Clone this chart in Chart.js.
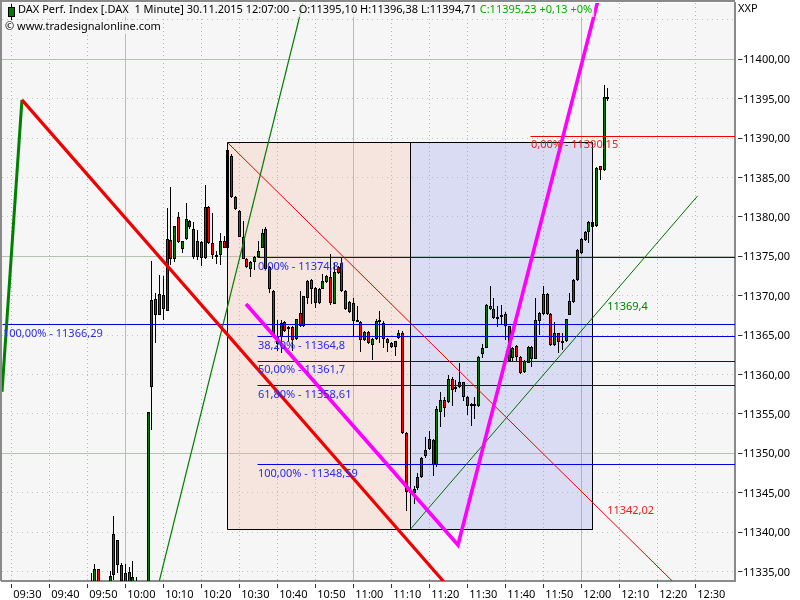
<!DOCTYPE html>
<html>
<head>
<meta charset="utf-8">
<title>DAX Perf. Index</title>
<style>
  html, body { margin: 0; padding: 0; background: #fff; }
  canvas { display: block; }
</style>
<script src="https://cdn.jsdelivr.net/npm/chart.js@4/dist/chart.umd.min.js"></script>
</head>
<body>
<canvas id="daxChart" width="800" height="600"></canvas>
<script>
  // candles, one per minute, first one is 09:51 (minutes since midnight)
  const firstMinute = 591;
  const opens = [
    11333.0,11333.0,11335.3,11333.0,11332.8,11333.0,11334.5,11339.0,11335.8,11333.2,
    11334.9,11333.2,11333.2,11332.5,11332.5,11332.9,11358.4,11369.6,11367.6,11370.1,
    11368.1,11377.1,11374.7,11380.0,11375.9,11377.2,11379.5,11378.5,11374.9,11376.8,
    11374.8,11381.3,11376.7,11375.2,11375.1,11376.9,11376.1,11387.7,11382.5,11380.8,
    11377.5,11374.7,11373.4,11374.3,11374.9,11376.1,11378.4,11373.7,11370.6,11364.8,
    11364.8,11366.7,11365.8,11366.0,11364.5,11367.8,11366.1,11369.7,11372.0,11371.0,
    11370.9,11370.9,11371.7,11372.4,11369.0,11373.7,11374.2,11370.6,11367.9,11369.1,
    11366.9,11366.7,11364.4,11365.4,11363.7,11364.5,11366.8,11366.5,11364.5,11364.0,
    11363.5,11364.6,11365.3,11352.6,11345.0,11345.0,11345.6,11347.0,11349.7,11350.5,
    11351.7,11348.5,11355.2,11356.8,11356.5,11359.4,11358.1,11358.4,11359.0,11357.2,
    11356.2,11356.1,11356.0,11362.6,11363.4,11368.7,11368.3,11367.0,11367.5,11367.7,
    11366.1,11362.1,11363.6,11362.2,11360.3,11361.5,11363.5,11362.0,11366.8,11367.7,
    11370.2,11367.7,11363.7,11365.2,11364.2,11364.2,11367.6,11369.2,11372.0,11375.4,
    11377.1,11378.1,11378.7,11378.8,11386.4,11385.9,11395.10
  ];
  const highs = [
    11334.8,11336.0,11335.3,11333.0,11333.0,11335.1,11342.1,11339.0,11336.1,11336.0,
    11335.6,11336.3,11334.3,11332.7,11332.7,11355.2,11374.4,11370.3,11372.6,11372.5,
    11381.1,11383.8,11378.9,11380.6,11377.0,11381.8,11379.6,11379.4,11378.3,11376.9,
    11384.0,11381.4,11380.5,11375.7,11378.0,11377.6,11389.0,11388.0,11382.6,11380.9,
    11379.5,11374.8,11374.4,11375.0,11376.9,11378.5,11378.7,11373.8,11370.7,11366.9,
    11366.9,11366.8,11366.1,11366.1,11367.1,11370.6,11370.0,11372.0,11372.1,11371.1,
    11371.0,11372.8,11372.6,11375.3,11374.2,11373.8,11374.8,11370.7,11369.3,11369.7,
    11368.7,11366.8,11365.5,11365.5,11364.6,11367.0,11368.0,11366.8,11364.6,11364.1,
    11364.3,11365.6,11365.5,11352.7,11345.4,11345.8,11347.5,11349.5,11352.1,11352.8,
    11351.8,11356.0,11357.8,11357.2,11359.9,11359.7,11359.3,11361.4,11359.1,11357.3,
    11356.4,11357.2,11362.3,11363.9,11368.9,11371.2,11369.7,11368.7,11368.8,11367.9,
    11366.2,11363.5,11363.7,11362.3,11361.8,11363.6,11363.6,11369.7,11367.9,11371.2,
    11370.3,11367.8,11366.7,11365.3,11365.3,11367.1,11370.3,11372.1,11375.9,11377.3,
    11378.2,11379.5,11379.5,11386.3,11386.5,11396.7,11396.38
  ];
  const lows = [
    11332.5,11332.8,11332.8,11332.5,11332.5,11332.8,11333.9,11334.8,11333.5,11333.0,
    11333.0,11333.0,11333.0,11332.4,11332.4,11332.5,11352.9,11364.0,11367.5,11366.9,
    11368.0,11373.9,11374.3,11376.7,11375.4,11377.1,11378.5,11374.7,11374.5,11373.8,
    11374.7,11376.5,11374.6,11374.0,11373.9,11376.0,11376.0,11382.4,11380.9,11377.4,
    11374.6,11373.5,11372.4,11373.3,11374.8,11376.0,11373.3,11370.3,11364.6,11363.0,
    11362.7,11365.4,11364.1,11363.0,11364.4,11366.0,11366.0,11369.0,11368.9,11368.4,
    11369.0,11370.8,11371.6,11368.8,11368.9,11372.8,11370.5,11368.2,11367.8,11364.9,
    11366.6,11362.9,11364.3,11363.9,11361.8,11364.4,11364.0,11363.4,11362.9,11363.4,
    11362.4,11364.5,11352.5,11342.7,11344.9,11343.5,11345.4,11346.9,11349.4,11350.4,
    11347.1,11348.3,11353.3,11354.6,11356.4,11356.0,11357.8,11358.3,11356.6,11354.8,
    11353.5,11354.4,11355.9,11362.1,11363.3,11368.2,11367.1,11366.0,11366.3,11364.4,
    11361.6,11361.7,11361.7,11360.1,11360.2,11361.4,11361.0,11361.9,11365.0,11367.6,
    11367.6,11363.6,11363.6,11362.7,11363.1,11364.1,11367.5,11369.1,11371.9,11375.3,
    11377.0,11376.7,11378.6,11378.7,11384.7,11385.8,11394.71
  ];
  const closes = [
    11333.1,11335.3,11333.0,11332.8,11332.9,11334.4,11339.8,11335.8,11333.8,11334.8,
    11333.2,11334.3,11333.3,11332.6,11332.6,11355.2,11369.5,11367.6,11370.2,11368.3,
    11377.2,11374.7,11378.8,11376.8,11376.9,11379.7,11378.7,11374.9,11376.9,11374.8,
    11381.3,11376.7,11375.1,11375.1,11376.9,11376.1,11388.5,11382.5,11381.0,11377.5,
    11374.7,11373.7,11374.3,11374.9,11375.7,11378.0,11373.4,11370.9,11364.8,11363.9,
    11366.5,11365.5,11366.0,11364.4,11367.0,11366.1,11369.9,11371.9,11370.9,11369.1,
    11369.1,11371.9,11372.5,11369.1,11373.0,11372.9,11370.6,11368.3,11369.2,11366.8,
    11366.8,11364.4,11365.4,11364.0,11364.5,11366.8,11366.9,11364.5,11364.0,11363.5,
    11364.2,11365.3,11352.6,11345.1,11345.3,11345.5,11347.0,11349.4,11350.4,11351.8,
    11348.5,11355.6,11356.8,11355.8,11359.4,11358.0,11358.4,11359.0,11357.2,11356.0,
    11356.3,11356.2,11362.2,11363.4,11368.8,11368.3,11367.2,11367.3,11367.6,11366.1,
    11361.7,11363.4,11362.2,11360.2,11361.7,11363.5,11362.0,11366.9,11367.8,11370.2,
    11367.7,11363.7,11365.3,11364.1,11364.3,11367.0,11369.3,11372.0,11375.8,11377.2,
    11378.1,11379.4,11379.4,11386.2,11385.9,11395.2,11395.23
  ];

  // axis range
  const xMin = 567.55, xMax = 760.45;
  const yMin = 11333.79, yMax = 11407.14;
  const lastYLabel = 11400;
  const lastXTick = 750; // 12:30

  // boxes: three vertical edges, common top and bottom
  const boxTimes = [627, 675, 723];
  const boxTop = 11389.45, boxBottom = 11340.35;

  // horizontal levels
  const levelValues = [11374.81, 11366.29, 11364.8, 11361.7, 11358.61, 11348.59];
  const levelStarts = [634.9, xMin, 634.9, 634.9, 634.9, 634.9];
  const redLevel = 11390.15, redLevelStart = 706.76;

  // trend lines, [time, value] pairs
  const greenThick = [[567.55, 11357.8], [572.8, 11394.84]];
  const redThick = [[572.8, 11394.84], [683.87, 11333.67]];
  const magentaThick = [[631.76, 11368.95], [687.55, 11338.37], [724.4, 11407.5]];
  const greenLong = [[608.95, 11333.8], [646.76, 11407.14]];
  const redThin = [[627, 11389.38], [743.9, 11333.8]];
  const greenThin = [[675, 11340.35], [750.6, 11382.65]];

  // text on the chart: text, time, value, colour
  const labelTexts = ['0,00% - 11374,81', '100,00% - 11366,29', '38,20% - 11364,8', '50,00% - 11361,7',
    '61,80% - 11358,61', '100,00% - 11348,59', '0,00% - 11390,15', '11369,4', '11342,02'];
  const labelTimes = [634.9, 567.8, 634.9, 634.9, 634.9, 634.9, 706.76, 726.8, 726.8];
  const labelValues = [11373.64, 11365.14, 11363.63, 11360.6, 11357.4, 11347.4, 11389.12, 11368.6, 11342.7];
  const labelColors = ['#2a2af0', '#2a2af0', '#2a2af0', '#2a2af0', '#2a2af0', '#2a2af0', '#f02020', '#008000', '#f02020'];

  const titleBlack = 'DAX Perf. Index [.DAX  1 Minute] 30.11.2015 12:07:00 - O:11395,10 H:11396,38 L:11394,71';
  const titleGreen = 'C:11395,23 +0,13 +0%';
  const FONT = '11px "Noto Sans"';

  const minutes = opens.map((_, i) => firstMinute + i);
  const xy = pts => pts.map(p => ({ x: p[0], y: p[1] }));

  function hhmm(v) {
    const h = Math.floor(v / 60), m = v % 60;
    return String(h).padStart(2, '0') + ':' + String(m).padStart(2, '0');
  }

  function lineDs(data, color, width, order, snap) {
    return { type: 'line', data: data, borderColor: color, borderWidth: width, pointRadius: 0,
      tension: 0, fill: false, order: order, snap: !!snap, borderJoinStyle: 'miter' };
  }

  // the layout adds room for labels on the scales, the plot has to stay at its fixed spot
  function noPadding(scale) {
    scale.paddingLeft = scale.paddingRight = scale.paddingTop = scale.paddingBottom = 0;
  }

  const datasets = [
    // box fills, the grid shows through
    { type: 'line', data: [{ x: boxTimes[0], y: boxTop }, { x: boxTimes[1], y: boxTop }], borderWidth: 0,
      pointRadius: 0, fill: { value: boxBottom }, backgroundColor: 'rgba(242,178,150,0.25)', order: 20 },
    { type: 'line', data: [{ x: boxTimes[1], y: boxTop }, { x: boxTimes[2], y: boxTop }], borderWidth: 0,
      pointRadius: 0, fill: { value: boxBottom }, backgroundColor: 'rgba(142,150,235,0.27)', order: 20 },
    // wicks and bodies
    { type: 'bar', data: minutes.map((m, i) => ({ x: m, y: [lows[i], highs[i]] })), backgroundColor: '#000',
      barThickness: 1, grouped: false, inflateAmount: 0, borderWidth: 0, order: 15, wick: true },
    { type: 'bar', data: minutes.map((m, i) => ({ x: m, y: [opens[i], closes[i]] })),
      backgroundColor: minutes.map((m, i) => closes[i] >= opens[i] ? '#007a00' : '#ff0000'),
      borderColor: '#000', borderWidth: 1, borderSkipped: false, barThickness: 3, grouped: false,
      inflateAmount: 0, order: 14 },
    // box outline
    lineDs([boxTimes[0], boxTimes[2]].flatMap((t, i) => i === 0
      ? [{ x: t, y: boxBottom }, { x: t, y: boxTop }]
      : [{ x: t, y: boxTop }, { x: t, y: boxBottom }, { x: boxTimes[0], y: boxBottom }]), '#000', 1, 12, true),
    lineDs([{ x: boxTimes[1], y: boxTop }, { x: boxTimes[1], y: boxBottom }], '#000', 1, 12, true),
    lineDs([{ x: redLevelStart, y: redLevel }, { x: xMax, y: redLevel }], '#f00000', 1, 11, true),
    lineDs(xy(greenLong), '#008000', 1.2, 10),
    lineDs(xy(redThin), '#f00000', 1, 10),
    lineDs(xy(greenThin), '#007000', 1, 10),
    lineDs(xy(redThick), '#f00000', 3.2, 9),
    lineDs(xy(greenThick), '#008000', 3, 9),
    lineDs(xy(magentaThick), '#ff00ff', 3.6, 8)
  ];
  levelValues.forEach((v, i) => {
    datasets.push(lineDs([{ x: levelStarts[i], y: v }, { x: xMax, y: v }], '#0000e0', 1, 11, true));
  });

  // plot background and the frame on top and left
  const plotBack = {
    id: 'plotBack',
    beforeDraw(chart) {
      const a = chart.chartArea, ctx = chart.ctx;
      ctx.save();
      ctx.fillStyle = '#f6f6f6';
      ctx.fillRect(a.left, a.top, a.right - a.left, a.bottom - a.top);
      ctx.fillStyle = '#8a8a8a';
      ctx.fillRect(0, 0, 2, a.bottom);
      ctx.fillRect(0, 0, a.right, 2);
      ctx.restore();
    }
  };

  // the original draws pixel aligned, so snap bars and flat lines to whole pixels
  const snapMarks = {
    id: 'snapMarks',
    beforeDatasetsDraw(chart) {
      chart.data.datasets.forEach((ds, i) => {
        const meta = chart.getDatasetMeta(i);
        if (ds.type === 'bar') {
          meta.data.forEach(b => {
            b.x = Math.floor(b.x) + 0.5;
            let top = Math.round(Math.min(b.y, b.base)), bot = Math.round(Math.max(b.y, b.base));
            if (bot - top < 2) bot = top + 2;
            b.y = top;
            b.base = bot;
          });
        } else if (ds.snap) {
          meta.data.forEach(p => {
            p.x = Math.floor(p.x) + 0.5;
            p.y = Math.floor(p.y) + 0.5;
          });
        }
      });
    }
  };

  const chartTexts = {
    id: 'chartTexts',
    afterDatasetsDraw(chart) {
      const ctx = chart.ctx, sx = chart.scales.x, sy = chart.scales.y;
      ctx.save();
      ctx.font = FONT;
      ctx.textBaseline = 'middle';
      ctx.textAlign = 'left';
      labelTexts.forEach((t, i) => {
        ctx.fillStyle = labelColors[i];
        ctx.fillText(t, sx.getPixelForValue(labelTimes[i]), sy.getPixelForValue(labelValues[i]));
      });

      // title row has a pale backing
      const w1 = ctx.measureText(titleBlack).width, w2 = ctx.measureText(titleGreen).width;
      ctx.fillStyle = 'rgba(246,246,246,0.75)';
      ctx.fillRect(17, 3, w1 + w2 + 6, 14);
      ctx.fillRect(4, 20, 147, 14);
      ctx.fillStyle = '#000';
      ctx.fillText(titleBlack, 18, 10);
      ctx.fillText('\u00a9 www.tradesignalonline.com', 5, 27);
      ctx.fillText('XXP', 738, 9);
      ctx.fillStyle = '#00b000';
      ctx.fillText(titleGreen, 18 + w1 + 3, 10);

      // little candle icon in front of the title
      ctx.fillStyle = '#000';
      ctx.fillRect(11, 4, 1, 16);
      ctx.fillRect(8, 7, 7, 10);
      ctx.fillStyle = '#007a00';
      ctx.fillRect(9, 8, 5, 8);
      ctx.restore();
    }
  };

  new Chart(document.getElementById('daxChart'), {
    type: 'bar',
    data: { datasets: datasets },
    plugins: [plotBack, snapMarks, chartTexts],
    options: {
      responsive: false,
      animation: false,
      layout: { padding: { left: 2, top: 3 } },
      plugins: { legend: { display: false }, tooltip: { enabled: false } },
      scales: {
        x: {
          type: 'linear',
          offset: false,
          min: xMin,
          max: xMax,
          afterBuildTicks(scale) { scale.ticks = scale.ticks.filter(t => t.value <= lastXTick); },
          afterFit(scale) { scale.height = 19; noPadding(scale); },
          grid: {
            offset: false, // bar charts default this to true, which moves the lines half a step
            color: c => c.tick && c.tick.value % 60 === 0 ? '#b2c2b2' : '#b4b4b4',
            tickColor: '#303030',
            tickLength: 7,
            tickBorderDash: [0, 2, 8]
          },
          border: {
            color: '#8a8a8a',
            width: 2,
            dash: c => c.tick && c.tick.value % 60 === 0 ? [] : [1, 3]
          },
          ticks: {
            stepSize: 10,
            includeBounds: false,
            autoSkip: false,
            maxRotation: 0,
            align: 'start',
            labelOffset: 2,
            padding: 0,
            color: '#000',
            font: { family: 'Noto Sans', size: 11 },
            callback: v => hhmm(v)
          }
        },
        y: {
          position: 'right',
          min: yMin,
          max: yMax,
          afterFit(scale) { scale.width = 65; noPadding(scale); },
          grid: {
            color: c => c.tick && c.tick.value % 25 === 0 ? '#b2c2b2' : '#b8ccb8',
            tickColor: c => c.tick && c.tick.value > lastYLabel ? 'transparent' : '#303030',
            tickLength: 8,
            tickBorderDash: [0, 2, 4.5, 10]
          },
          border: {
            color: '#8a8a8a',
            width: 2,
            dash: c => c.tick && c.tick.value % 25 === 0 ? [] : [1, 4]
          },
          ticks: {
            stepSize: 5,
            includeBounds: false,
            autoSkip: false,
            padding: 0,
            labelOffset: 1,
            color: '#000',
            font: { family: 'Noto Sans', size: 11 },
            callback: v => v > lastYLabel ? '' : v.toFixed(2).replace('.', ',')
          }
        }
      }
    }
  });
</script>
</body>
</html>
